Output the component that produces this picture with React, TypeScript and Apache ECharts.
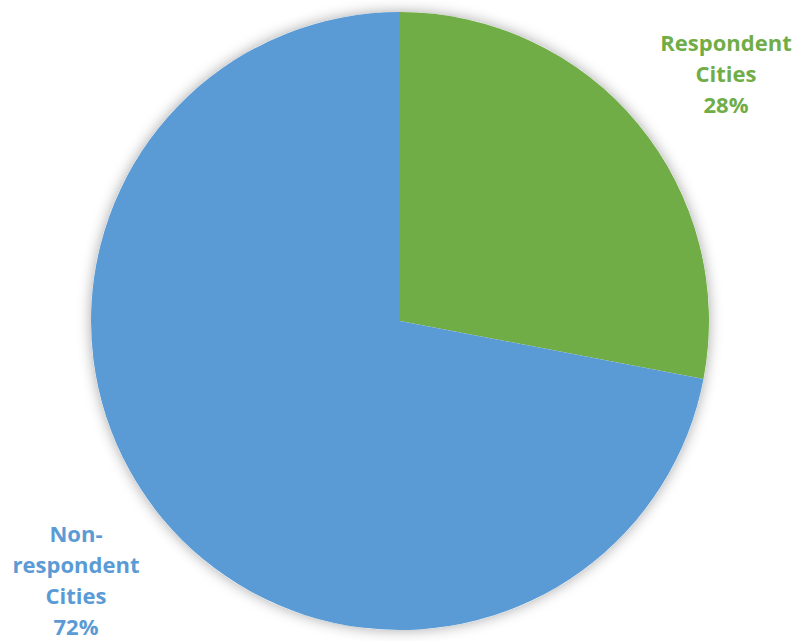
import React, { useEffect, useRef } from "react";
import * as echarts from "echarts";

const categories = ["Respondent\nCities", "Non-\nrespondent\nCities"];
const values = [28, 72];
const colors = ["#70AD47", "#5B9BD5"];

export default function App() {
  const ref = useRef<HTMLDivElement>(null);
  useEffect(() => {
    if (!ref.current) return;
    const chart = echarts.init(ref.current, null, { renderer: "svg" });
    const labelPos = [
      { x: 726, y: 73 },
      { x: 76, y: 579 },
    ];
    chart.setOption({
      animation: false,
      backgroundColor: "#ffffff",
      series: [
        {
          type: "pie",
          silent: true,
          center: [400, 321],
          radius: [0, 309],
          z: 1,
          data: [{ value: 1, name: "shadow" }],
          itemStyle: {
            color: "#ffffff",
            shadowBlur: 14,
            shadowColor: "rgba(0,0,0,0.35)",
          },
          label: { show: false },
          labelLine: { show: false },
          emphasis: { disabled: true },
          tooltip: { show: false },
        },
        {
          type: "pie",
          center: [400, 321],
          radius: [0, 309],
          startAngle: 90,
          clockwise: true,
          z: 2,
          data: categories.map((name, i) => ({
            name,
            value: values[i],
            itemStyle: { color: colors[i] },
            label: { color: colors[i] },
          })),
          itemStyle: { borderWidth: 0 },
          label: {
            show: true,
            position: "outside",
            formatter: (p: any) => `${p.name}\n${Math.round(p.percent)}%`,
            fontFamily: "Open Sans",
            fontWeight: "bold",
            fontSize: 22,
            lineHeight: 31,
            align: "center",
            overflow: "none",
            width: 200,
          },
          labelLine: { show: false },
          labelLayout: (params: any) => ({
            x: labelPos[params.dataIndex].x,
            y: labelPos[params.dataIndex].y,
            align: "center",
            verticalAlign: "middle",
          }),
          emphasis: { disabled: true },
        },
      ],
    });
    return () => chart.dispose();
  }, []);
  return (
    <div
      ref={ref}
      style={{ position: "absolute", left: 0, top: 0, width: 803, height: 641 }}
    />
  );
}
